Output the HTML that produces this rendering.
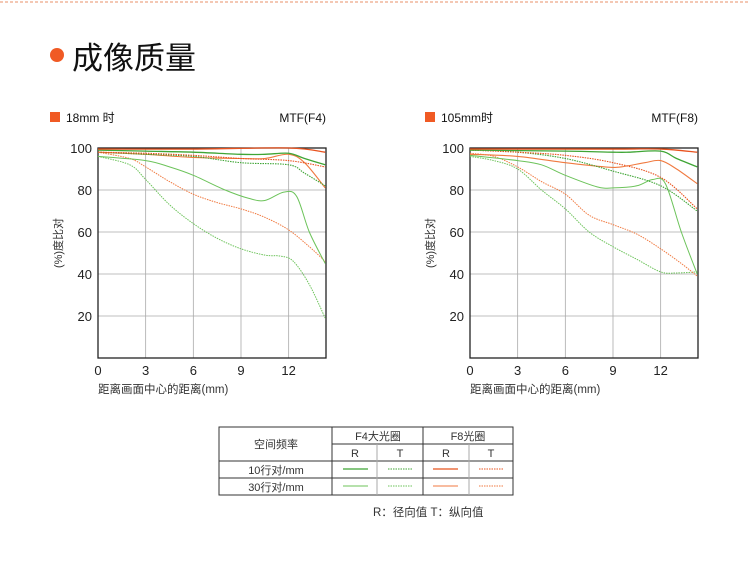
<!DOCTYPE html>
<html><head><meta charset="utf-8"><style>
body{margin:0;background:#fff;}
svg{display:block;font-family:"Liberation Sans","Noto Sans CJK SC",sans-serif;}
</style></head><body>
<svg id="root" width="750" height="577" viewBox="0 0 750 577">
<line x1="0" y1="2" x2="750" y2="2" stroke="#e8906a" stroke-width="1" stroke-dasharray="3,2"/>
<circle cx="57" cy="55" r="7" fill="#f05a24"/>
<text x="72" y="69" font-size="31" fill="#111">成像质量</text>
<g id="c1"></g>
<g id="c2"></g>
<g font-size="11" fill="#333" text-anchor="middle">
<rect x="219" y="427" width="294" height="68" fill="none" stroke="#333" stroke-width="1"/>
<line x1="332" y1="444" x2="513" y2="444" stroke="#333"/>
<line x1="219" y1="461" x2="513" y2="461" stroke="#333"/>
<line x1="219" y1="478" x2="513" y2="478" stroke="#333"/>
<line x1="332" y1="427" x2="332" y2="495" stroke="#333"/>
<line x1="423" y1="427" x2="423" y2="495" stroke="#333"/>
<line x1="377" y1="444" x2="377" y2="495" stroke="#aaa"/>
<line x1="469" y1="444" x2="469" y2="495" stroke="#aaa"/>
<text x="276" y="448">空间频率</text>
<text x="378" y="440">F4大光圈</text>
<text x="468" y="440">F8光圈</text>
<text x="355" y="457">R</text><text x="400" y="457">T</text><text x="446" y="457">R</text><text x="491" y="457">T</text>
<text x="276" y="474">10行对/mm</text>
<text x="276" y="491">30行对/mm</text>
<line x1="343" y1="469" x2="368" y2="469" stroke="#3fa535" stroke-width="1.2"/>
<line x1="388" y1="469" x2="413" y2="469" stroke="#3fa535" stroke-dasharray="1.5,1"/>
<line x1="433" y1="469" x2="458" y2="469" stroke="#e8531f" stroke-width="1.2"/>
<line x1="479" y1="469" x2="504" y2="469" stroke="#e8531f" stroke-dasharray="1.5,1"/>
<line x1="343" y1="486" x2="368" y2="486" stroke="#6cc35a" stroke-width="1"/>
<line x1="388" y1="486" x2="413" y2="486" stroke="#6cc35a" stroke-dasharray="1.5,1"/>
<line x1="433" y1="486" x2="458" y2="486" stroke="#f07a40" stroke-width="1"/>
<line x1="479" y1="486" x2="504" y2="486" stroke="#f07a40" stroke-dasharray="1.5,1"/>
</g>
<text x="373" y="516" font-size="11.5" fill="#333">R：径向值  T：纵向值</text>
</svg>
<script>
const xTicks=[0,3,6,9,12];
const yTicks=[20,40,60,80,100];
// 18mm chart series: [x values, y values]
const s18_F4_10R_x=[0,3,6,9,10.5,12,13,14.3], s18_F4_10R=[99,98.5,98,97,97,97.5,95,92];
const s18_F4_10T_x=[0,3,6,9,12,13,14.3], s18_F4_10T=[98,97,96,93,92,88,82];
const s18_F4_30R_x=[0,3,4.5,6,8,9.5,10.5,11.7,12.5,13.3,14.3], s18_F4_30R=[96,94,91,87,80,76,75,79,77,60,45];
const s18_F4_30T_x=[0,2,3,4.5,6,7.5,9,10.5,11.5,12.3,13.3,14.3], s18_F4_30T=[96,92,85,73,64,57,52,49,48.5,46,35,19];
const s18_F8_10R_x=[0,6,12,14.3], s18_F8_10R=[99.5,99.5,100,98];
const s18_F8_10T_x=[0,3,6,9,12,14.3], s18_F8_10T=[98,97.5,96.5,95,94,91];
const s18_F8_30R_x=[0,3,6,9,10.5,12,13,14.3], s18_F8_30R=[98,97,95.5,95,95,97,93,81];
const s18_F8_30T_x=[0,2,3,4.5,6,7.5,9,10.5,12,13.3,14.3], s18_F8_30T=[98,95,91,84,78,74,71,67,61,53,46];
// 105mm chart series
const s105_F4_10R_x=[0,6,9,10,12,13,14.3], s105_F4_10R=[99,98.5,98,98,98.5,95,91];
const s105_F4_10T_x=[0,3,6,9,12,14.3], s105_F4_10T=[99,98,95,89,82,70];
const s105_F4_30R_x=[0,3,4.5,6,8,9,10.5,11.5,12.3,13.3,14.3], s105_F4_30R=[96.5,94,92,87,81.5,81,82,85,83,60,40];
const s105_F4_30T_x=[0,1.5,3,4.5,6,7.5,9,10.5,12,13,14.3], s105_F4_30T=[96,94,90,80,71,60,53,47,41,40.5,41];
const s105_F8_10R_x=[0,9,12,14.3], s105_F8_10R=[99.5,99.5,99.5,98];
const s105_F8_10T_x=[0,3,6,9,12,14.3], s105_F8_10T=[99,98,96.5,93,86,71];
const s105_F8_30R_x=[0,3,6,8.5,9.5,11,12,13,14.3], s105_F8_30R=[97,96,93,91,91,93,94,90,83];
const s105_F8_30T_x=[0,1.5,3,4.5,6,7.5,9,10.5,12,13.3,14.3], s105_F8_30T=[97.5,96,91,84,78,68,63.5,59,52,45,39];

const NS='http://www.w3.org/2000/svg';
function mk(tag,attrs,parent){const e=document.createElementNS(NS,tag);for(const k in attrs)e.setAttribute(k,attrs[k]);parent.appendChild(e);return e;}
const styles={
 F4_10R:{stroke:'#3fa535',w:1.3,d:null},F4_10T:{stroke:'#3fa535',w:1.1,d:'1.5,1'},
 F4_30R:{stroke:'#6cc35a',w:1,d:null},F4_30T:{stroke:'#6cc35a',w:1,d:'1.5,1'},
 F8_10R:{stroke:'#e8531f',w:1.3,d:null},F8_10T:{stroke:'#e8531f',w:1.1,d:'1.5,1'},
 F8_30R:{stroke:'#f07a40',w:1.1,d:null},F8_30T:{stroke:'#f07a40',w:1,d:'1.5,1'}};
function path(xs,ys,sx,sy){
 const p=xs.map((x,i)=>[sx(x),sy(ys[i])]);
 let d='M'+p[0][0]+','+p[0][1];
 for(let i=0;i<p.length-1;i++){
  const p0=p[i-1]||p[i],p1=p[i],p2=p[i+1],p3=p[i+2]||p2;
  const c1=[p1[0]+(p2[0]-p0[0])/6,p1[1]+(p2[1]-p0[1])/6];
  const c2=[p2[0]-(p3[0]-p1[0])/6,p2[1]-(p3[1]-p1[1])/6];
  d+=' C'+c1.join(',')+' '+c2.join(',')+' '+p2.join(',');
 }
 return d;
}
function chart(g,x0,title,mtf,sqx,pre,series){
 const L=x0,R=x0+228,T=148,B=358;
 const sx=v=>L+v*(R-L)/14.35, sy=v=>B-v*(B-T)/100;
 const sq=mk('rect',{x:sqx,y:112,width:10,height:10,fill:'#f05a24'},g);
 
 
 const t=mk('text',{x:sqx+16,y:122,'font-size':12,fill:'#111'},g);t.textContent=title;
 
 
 const m=mk('text',{x:R,y:122,'font-size':12,fill:'#111','text-anchor':'end'},g);m.textContent=mtf;
 
 
 xTicks.forEach(v=>{if(v>0){const l=mk('line',{x1:sx(v),y1:T,x2:sx(v),y2:B,stroke:'#aaa','stroke-width':0.8},g);
  
  }
  const tx=mk('text',{x:sx(v),y:375,'font-size':13,fill:'#222','text-anchor':'middle'},g);tx.textContent=v;
  
  });
 yTicks.forEach(v=>{if(v<100){const l=mk('line',{x1:L,y1:sy(v),x2:R,y2:sy(v),stroke:'#aaa','stroke-width':0.8},g);
  
  }
  const tx=mk('text',{x:L-6,y:sy(v)+5,'font-size':13,fill:'#222','text-anchor':'end'},g);tx.textContent=v;
  
  });
 const fr=mk('rect',{x:L,y:T,width:R-L,height:B-T,fill:'none',stroke:'#222','stroke-width':1.3},g);
 
 
 const keys=['F4_30T','F8_30T','F4_30R','F8_30R','F4_10T','F8_10T','F4_10R','F8_10R'];
 keys.forEach(k=>{const st=styles[k];
  const a={d:path(series[k+'_x'],series[k],sx,sy),fill:'none',stroke:st.stroke,'stroke-width':st.w};
  if(st.d)a['stroke-dasharray']=st.d;
  const p=mk('path',a,g);
  
  });
 const yt=mk('text',{x:0,y:0,'font-size':11,fill:'#333','text-anchor':'middle',transform:'translate('+(x0-36)+',243) rotate(-90)'},g);yt.textContent='(%)度比对';
 
 
 const xt=mk('text',{x:L,y:393,'font-size':11.5,fill:'#333'},g);xt.textContent='距离画面中心的距离(mm)';
 
 
}
const S18={F4_10R_x:s18_F4_10R_x,F4_10R:s18_F4_10R,F4_10T_x:s18_F4_10T_x,F4_10T:s18_F4_10T,F4_30R_x:s18_F4_30R_x,F4_30R:s18_F4_30R,F4_30T_x:s18_F4_30T_x,F4_30T:s18_F4_30T,F8_10R_x:s18_F8_10R_x,F8_10R:s18_F8_10R,F8_10T_x:s18_F8_10T_x,F8_10T:s18_F8_10T,F8_30R_x:s18_F8_30R_x,F8_30R:s18_F8_30R,F8_30T_x:s18_F8_30T_x,F8_30T:s18_F8_30T};
const S105={F4_10R_x:s105_F4_10R_x,F4_10R:s105_F4_10R,F4_10T_x:s105_F4_10T_x,F4_10T:s105_F4_10T,F4_30R_x:s105_F4_30R_x,F4_30R:s105_F4_30R,F4_30T_x:s105_F4_30T_x,F4_30T:s105_F4_30T,F8_10R_x:s105_F8_10R_x,F8_10R:s105_F8_10R,F8_10T_x:s105_F8_10T_x,F8_10T:s105_F8_10T,F8_30R_x:s105_F8_30R_x,F8_30R:s105_F8_30R,F8_30T_x:s105_F8_30T_x,F8_30T:s105_F8_30T};
chart(document.getElementById('c1'),98,'18mm 时','MTF(F4)',50,'s18',S18);
chart(document.getElementById('c2'),470,'105mm时','MTF(F8)',425,'s105',S105);
</script>
</body></html>
